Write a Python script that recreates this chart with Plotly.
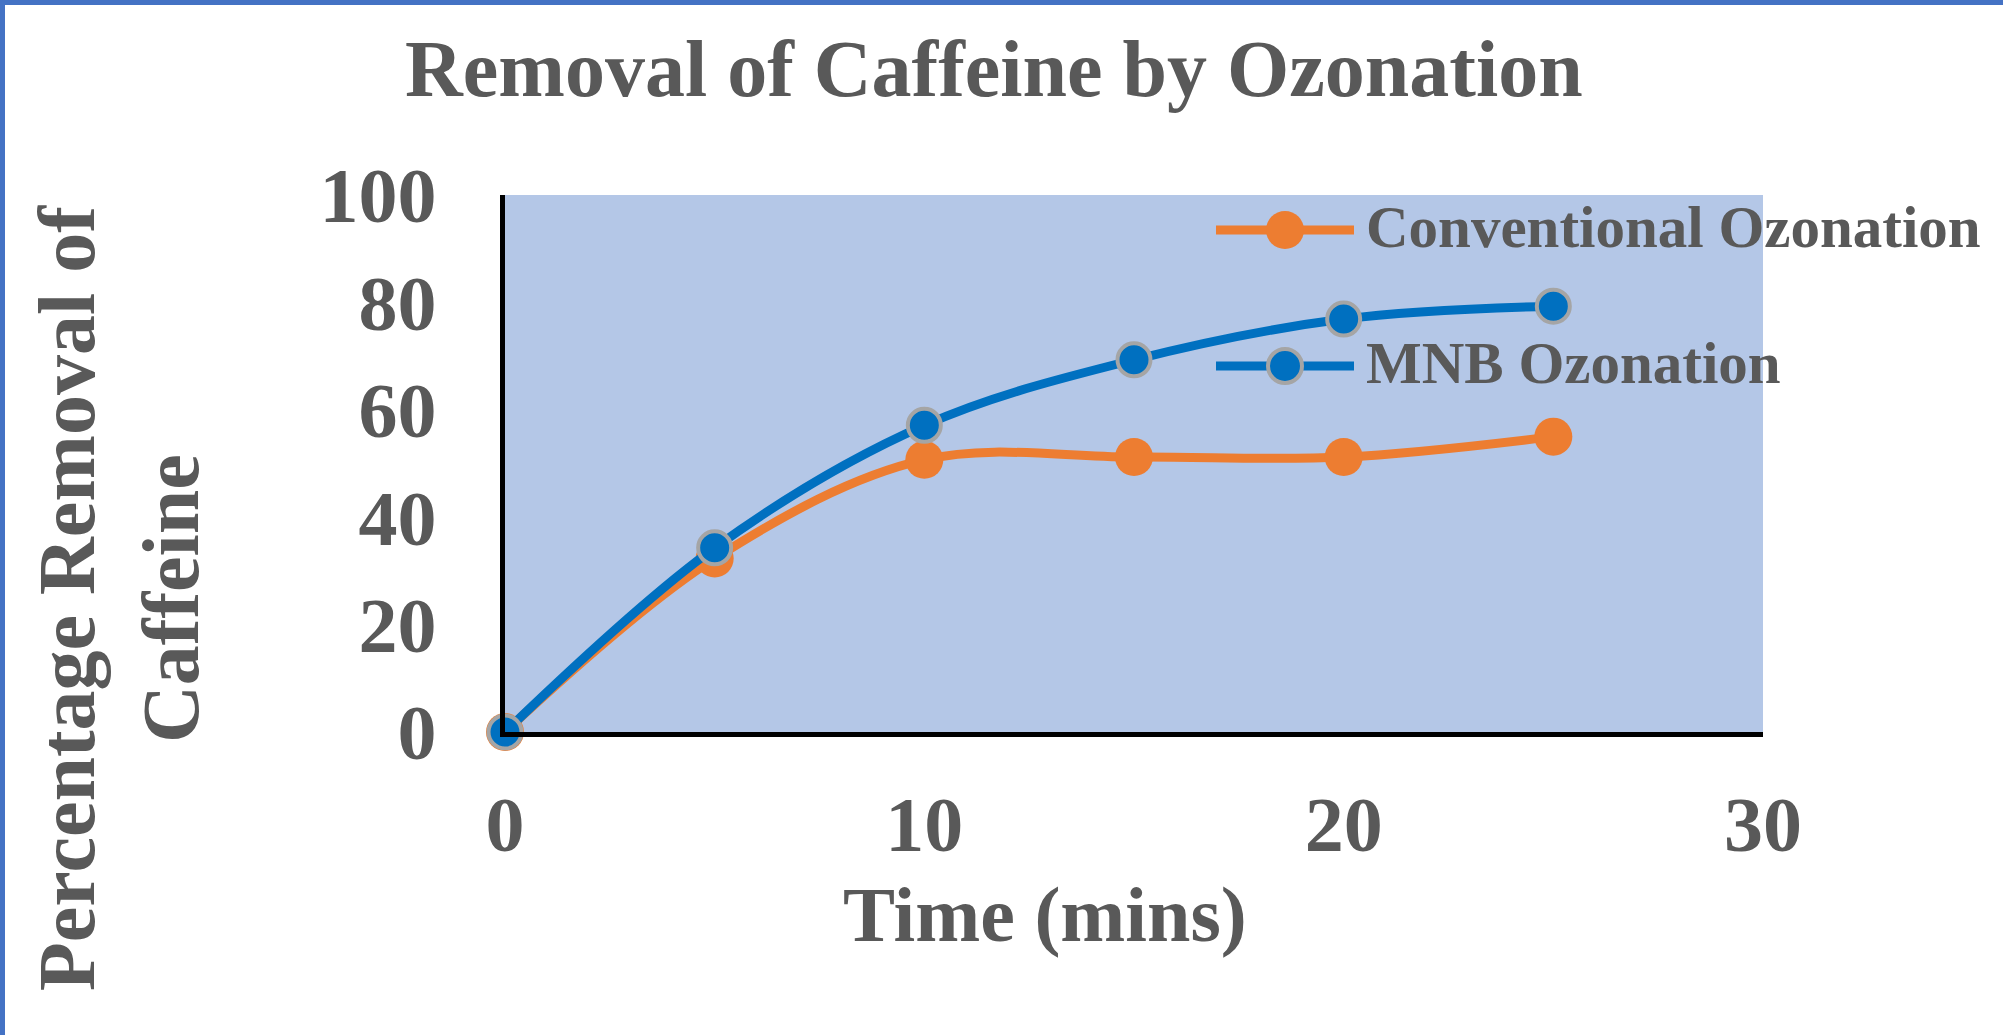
import plotly.graph_objects as go

# ---- data ----
time_min = [0, 5, 10, 15, 20, 25]
conventional = [0, 32.3, 50.7, 51.2, 51.2, 55.0]
mnb = [0, 34.3, 57.1, 69.3, 76.9, 79.3]
x_ticks = [0, 10, 20, 30]
y_ticks = [0, 20, 40, 60, 80, 100]
series_names = ["Conventional Ozonation", "MNB Ozonation"]

W, H = 2003, 1035
L, R, T, B = 505, 240, 195, 303
pw, ph = W - L - R, H - T - B


def px_x(p):
    return (p - L) / pw


def px_y(p):
    return (H - B - p) / ph


FONT = "Liberation Serif, Times New Roman, serif"
TXT = "#595959"
ORANGE, BLUE, GRAY = "#ED7D31", "#0070C0", "#A5A5A5"
LW = 9

fig = go.Figure()
fig.add_trace(go.Scatter(
    x=time_min, y=conventional, name=series_names[0],
    mode="lines+markers", line=dict(color=ORANGE, width=LW, shape="spline", smoothing=1),
    marker=dict(size=38, color=ORANGE, line=dict(width=0)),
    cliponaxis=False,
))
fig.add_trace(go.Scatter(
    x=time_min, y=mnb, name=series_names[1],
    mode="lines+markers", line=dict(color=BLUE, width=LW, shape="spline", smoothing=1),
    marker=dict(size=33, color=BLUE, line=dict(width=4, color=GRAY)),
    cliponaxis=False,
))

# legend (drawn manually so the marker glyphs can be as large as in the chart)
legend_rows = [(series_names[0], 230, ORANGE, None), (series_names[1], 366, BLUE, GRAY)]
shapes = []
annotations = []
for name, yc, col, edge in legend_rows:
    shapes.append(dict(type="line", xref="paper", yref="paper",
                       x0=px_x(1216), x1=px_x(1354), y0=px_y(yc), y1=px_y(yc),
                       line=dict(color=col, width=LW), layer="above"))
    r = 19 if edge is None else 17
    shapes.append(dict(type="circle", xref="paper", yref="paper",
                       x0=px_x(1285 - r), x1=px_x(1285 + r), y0=px_y(yc + r), y1=px_y(yc - r),
                       fillcolor=col, line=dict(color=edge if edge else col, width=4 if edge else 0),
                       layer="above"))
    annotations.append(dict(text=name, xref="paper", yref="paper",
                            x=px_x(1364), y=px_y(yc - 3), xanchor="left", yanchor="middle",
                            showarrow=False,
                            font=dict(size=59, family=FONT, color=TXT, weight="bold")))

# page border (top and left edges)
shapes.append(dict(type="line", xref="paper", yref="paper", x0=px_x(0), x1=px_x(W),
                   y0=px_y(2.5), y1=px_y(2.5), line=dict(color="#4472C4", width=5), layer="above"))
shapes.append(dict(type="line", xref="paper", yref="paper", x0=px_x(2.5), x1=px_x(2.5),
                   y0=px_y(0), y1=px_y(H), line=dict(color="#4472C4", width=5), layer="above"))

annotations += [
    dict(text="Removal of Caffeine by Ozonation", xref="paper", yref="paper",
         x=px_x(994), y=px_y(69), xanchor="center", yanchor="middle", showarrow=False,
         font=dict(size=80, family=FONT, color=TXT, weight="bold")),
    dict(text="Time (mins)", xref="paper", yref="paper",
         x=px_x(1045), y=px_y(914), xanchor="center", yanchor="middle", showarrow=False,
         font=dict(size=78, family=FONT, color=TXT, weight="bold")),
    dict(text="Percentage Removal of<br>Caffeine", xref="paper", yref="paper",
         x=px_x(119), y=px_y(598), xanchor="center", yanchor="middle", showarrow=False,
         textangle=-90, font=dict(size=80, family=FONT, color=TXT, weight="bold")),
]

fig.update_layout(
    width=W, height=H,
    margin=dict(l=L, r=R, t=T, b=B, pad=0),
    paper_bgcolor="white", plot_bgcolor="#B4C7E7",
    font=dict(family=FONT, color=TXT),
    showlegend=False,
    xaxis=dict(
        range=[0, 30], tickvals=x_ticks, showgrid=False, zeroline=False,
        showline=True, linecolor="black", linewidth=5, ticks="",
        tickfont=dict(size=78, family=FONT, color=TXT, weight="bold"), ticklabelstandoff=20,
    ),
    yaxis=dict(
        range=[0, 100], tickvals=y_ticks, showgrid=False, zeroline=False,
        showline=True, linecolor="black", linewidth=5, ticks="",
        tickfont=dict(size=78, family=FONT, color=TXT, weight="bold"), ticklabelstandoff=48,
    ),
    annotations=annotations,
    shapes=shapes,
)

fig.write_html("out.html", config={"displayModeBar": False},
               post_script="document.body.style.margin='0px';")
